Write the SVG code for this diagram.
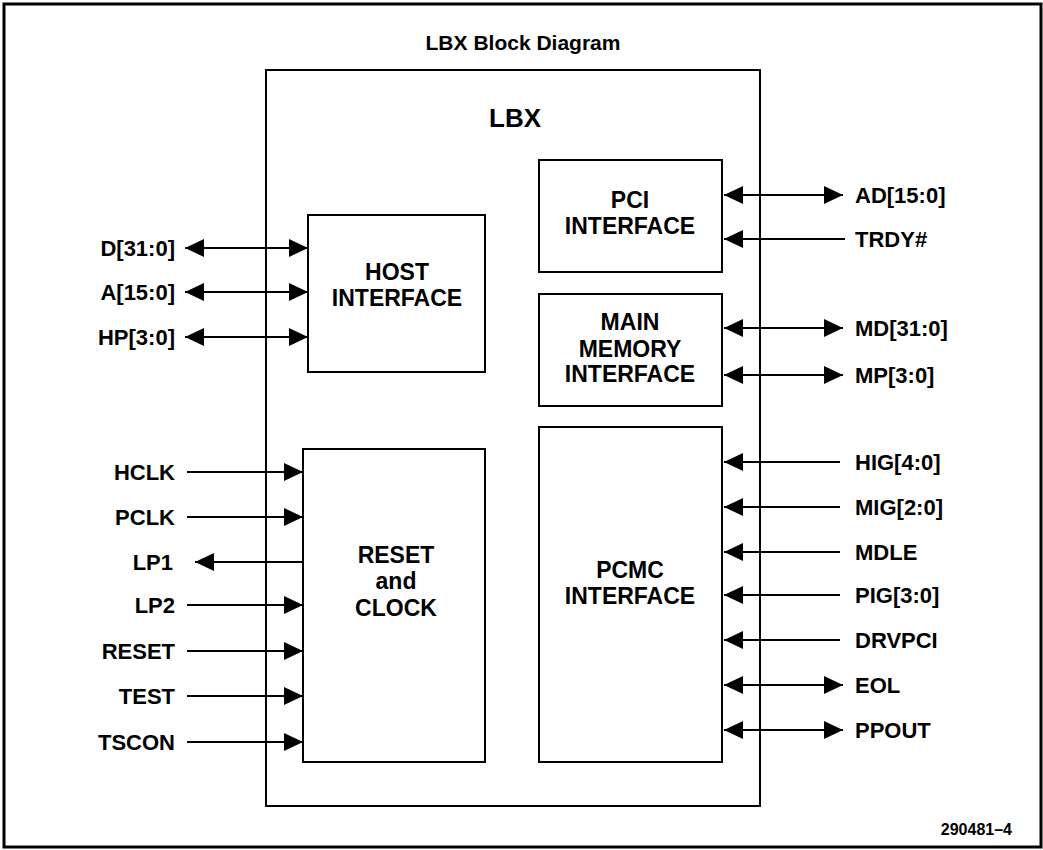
<svg xmlns="http://www.w3.org/2000/svg" width="1043" height="850" viewBox="0 0 1043 850">
<defs>
<style>
.frame{fill:none;stroke:#000;stroke-width:3}
.box{fill:#fff;stroke:#000;stroke-width:2}
.wire{fill:none;stroke:#000;stroke-width:2}
.in{marker-end:url(#ah)}
.bi{marker-start:url(#ah);marker-end:url(#ah)}
text{font-family:"Liberation Sans",Arial,Helvetica,sans-serif;font-weight:bold;fill:#000}
.sig{font-size:22px}
.l{text-anchor:end}
.r{text-anchor:start}
.bt{font-size:23px;text-anchor:middle}
</style>
<marker id="ah" markerUnits="userSpaceOnUse" markerWidth="19" markerHeight="18" refX="19" refY="9" orient="auto-start-reverse" viewBox="0 0 19 18">
<path d="M0,0 L19,9 L0,18 z" fill="#000"/>
</marker>
</defs>
<rect width="1043" height="850" fill="#fff"/>
<rect class="frame" x="4" y="4" width="1037" height="843"/>
<text x="523" y="50" style="font-size:21px" text-anchor="middle">LBX Block Diagram</text>
<g id="lbx">
<rect class="box" x="266" y="70" width="494" height="736"/>
<text x="515" y="127" style="font-size:26px" text-anchor="middle">LBX</text>
</g>
<g id="host">
<rect class="box" x="308" y="215" width="177" height="157"/>
<text class="bt" x="397" y="280">HOST</text>
<text class="bt" x="397" y="306">INTERFACE</text>
</g>
<g id="reset">
<rect class="box" x="303" y="449" width="182" height="313"/>
<text class="bt" x="396" y="563">RESET</text>
<text class="bt" x="396" y="589">and</text>
<text class="bt" x="396" y="616">CLOCK</text>
</g>
<g id="pci">
<rect class="box" x="539" y="160" width="183" height="112"/>
<text class="bt" x="630" y="208">PCI</text>
<text class="bt" x="630" y="234">INTERFACE</text>
</g>
<g id="mem">
<rect class="box" x="539" y="294" width="183" height="112"/>
<text class="bt" x="630" y="330">MAIN</text>
<text class="bt" x="630" y="357">MEMORY</text>
<text class="bt" x="630" y="382">INTERFACE</text>
</g>
<g id="pcmc">
<rect class="box" x="539" y="427" width="183" height="335"/>
<text class="bt" x="630" y="578">PCMC</text>
<text class="bt" x="630" y="604">INTERFACE</text>
</g>
<g id="connectors">
<line class="wire bi" x1="185" y1="248" x2="308" y2="248"/>
<line class="wire bi" x1="185" y1="292" x2="308" y2="292"/>
<line class="wire bi" x1="185" y1="337" x2="308" y2="337"/>
<line class="wire in" x1="187" y1="472" x2="303" y2="472"/>
<line class="wire in" x1="187" y1="517" x2="303" y2="517"/>
<line class="wire in" x1="303" y1="562" x2="195" y2="562"/>
<line class="wire in" x1="187" y1="605" x2="303" y2="605"/>
<line class="wire in" x1="187" y1="651" x2="303" y2="651"/>
<line class="wire in" x1="187" y1="696" x2="303" y2="696"/>
<line class="wire in" x1="187" y1="742" x2="303" y2="742"/>
<line class="wire bi" x1="724" y1="195" x2="843" y2="195"/>
<line class="wire in" x1="845" y1="239" x2="724" y2="239"/>
<line class="wire bi" x1="724" y1="328" x2="843" y2="328"/>
<line class="wire bi" x1="724" y1="375" x2="843" y2="375"/>
<line class="wire in" x1="840" y1="462" x2="724" y2="462"/>
<line class="wire in" x1="840" y1="507" x2="724" y2="507"/>
<line class="wire in" x1="840" y1="552" x2="724" y2="552"/>
<line class="wire in" x1="840" y1="595" x2="724" y2="595"/>
<line class="wire in" x1="840" y1="640" x2="724" y2="640"/>
<line class="wire bi" x1="724" y1="685" x2="843" y2="685"/>
<line class="wire bi" x1="724" y1="730" x2="843" y2="730"/>
</g>
<g id="labels">
<text class="sig l" x="175" y="256">D[31:0]</text>
<text class="sig l" x="175" y="300">A[15:0]</text>
<text class="sig l" x="175" y="345">HP[3:0]</text>
<text class="sig l" x="175" y="480">HCLK</text>
<text class="sig l" x="175" y="525">PCLK</text>
<text class="sig l" x="173" y="570">LP1</text>
<text class="sig l" x="175" y="613">LP2</text>
<text class="sig l" x="175" y="659">RESET</text>
<text class="sig l" x="175" y="704">TEST</text>
<text class="sig l" x="175" y="750">TSCON</text>
<text class="sig r" x="855" y="203">AD[15:0]</text>
<text class="sig r" x="855" y="247">TRDY#</text>
<text class="sig r" x="855" y="336">MD[31:0]</text>
<text class="sig r" x="855" y="383">MP[3:0]</text>
<text class="sig r" x="855" y="470">HIG[4:0]</text>
<text class="sig r" x="855" y="515">MIG[2:0]</text>
<text class="sig r" x="855" y="560">MDLE</text>
<text class="sig r" x="855" y="603">PIG[3:0]</text>
<text class="sig r" x="855" y="648">DRVPCI</text>
<text class="sig r" x="855" y="693">EOL</text>
<text class="sig r" x="855" y="738">PPOUT</text>
</g>
<text x="1012" y="835" style="font-size:16px" text-anchor="end">290481–4</text>
</svg>
